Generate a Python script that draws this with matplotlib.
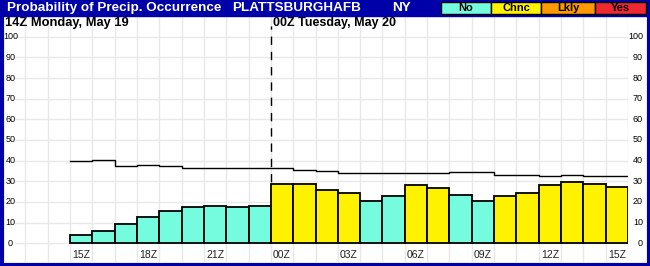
import matplotlib.pyplot as plt
from matplotlib.patches import Rectangle
import numpy as np

plt.rcParams['font.family'] = ['Liberation Sans', 'DejaVu Sans']

# hours 15Z Mon .. 15Z Tue
hours = ['15Z', '16Z', '17Z', '18Z', '19Z', '20Z', '21Z', '22Z', '23Z',
         '00Z', '01Z', '02Z', '03Z', '04Z', '05Z', '06Z', '07Z', '08Z',
         '09Z', '10Z', '11Z', '12Z', '13Z', '14Z', '15Z']
pop = [4, 6, 9.2, 12.6, 15.6, 17.4, 17.9, 17.4, 17.9,
       28.5, 28.5, 25.6, 24.2, 20.3, 22.7, 28.1, 26.6, 23.2,
       20.3, 22.7, 24.2, 28.1, 29.5, 28.5, 27.1]
category = ['No'] * 9 + ['Chnc'] * 4 + ['No'] * 2 + ['Chnc'] * 2 + ['No'] * 2 + ['Chnc'] * 6
upper = [39.8, 40.3, 37.4, 37.7, 37.4, 36.3, 36.3, 36.3, 36.3,
         36.3, 35.3, 34.8, 33.9, 33.9, 33.9, 33.9, 33.9, 34.3,
         34.3, 33.0, 33.0, 32.6, 33.0, 32.6, 32.6]
label_every = ['15Z', '18Z', '21Z', '00Z', '03Z', '06Z', '09Z', '12Z', '15Z']

cat_names = ['No', 'Chnc', 'Lkly', 'Yes']
cat_colors = {'No': '#75FBDD', 'Chnc': '#FFF200', 'Lkly': '#FF9900', 'Yes': '#F02830'}
frame_blue = '#0000A8'

W, H = 650, 266
fig = plt.figure(figsize=(W / 100, H / 100), dpi=100)

# axes in pixel coordinates
left, right, top, bottom = 15, 628, 16, 262
ax = fig.add_axes([left / W, 1 - bottom / H, (right - left) / W, (bottom - top) / H])
x = np.arange(len(hours))
px_per_hr = (628 - 70) / len(hours)
ax.set_xlim(-0.5 - (70 - left) / px_per_hr, len(hours) - 0.5)
y0_px, px_per_unit = 243.3, 2.066
ax.set_ylim(-(bottom - y0_px) / px_per_unit, (y0_px - top) / px_per_unit)
for s in ax.spines.values():
    s.set_visible(False)
ax.set_xticks([])
ax.set_yticks([])

# grid
for xe in np.arange(-2.5, len(hours), 1.0):
    ax.axvline(xe, color='#E8E8E8', lw=1, zorder=0)
for yv in range(0, 101, 10):
    ax.axhline(yv, color='#E8E8E8', lw=1, zorder=0)

ax.bar(x, pop, width=1.0, color=[cat_colors[c] for c in category],
       edgecolor='black', linewidth=1.3, zorder=3)
ax.step(np.append(x - 0.5, x[-1] + 0.5), upper + [upper[-1]], where='post',
        color='black', lw=1, zorder=4)

day_break = hours.index('00Z') - 0.5
ax.vlines(day_break, 0, 105, color='black', lw=1, ls=(0, (6, 5)), zorder=2)

for i, h in enumerate(hours):
    if h in label_every and (h != '15Z' or i in (0, len(hours) - 1)):
        ax.text(i, -5.6, h, ha='center', va='center', fontsize=7.5, color='#222222')

for yv in range(0, 101, 10):
    ypx = y0_px - yv * px_per_unit
    fig.text(10.5 / W, 1 - ypx / H, str(yv), ha='center', va='center', fontsize=6.5)
    fig.text(643 / W, 1 - ypx / H, str(yv), ha='right', va='center', fontsize=6.5)

fig.text(5 / W, 1 - 23 / H, '14Z Monday, May 19', fontsize=9.3, fontweight='bold', va='center')
fig.text(273 / W, 1 - 23 / H, '00Z Tuesday, May 20', fontsize=9, fontweight='bold', va='center')

# title bar and frame
fig.patches.append(Rectangle((0, 1 - 16 / H), 1, 16 / H, transform=fig.transFigure,
                             color=frame_blue, zorder=5))
fig.patches.append(Rectangle((1.5 / W, 1.5 / H), (W - 3) / W, (H - 3) / H,
                             transform=fig.transFigure, fill=False,
                             edgecolor=frame_blue, lw=3, zorder=5))
fig.text(7 / W, 1 - 8 / H, 'Probability of Precip. Occurrence', color='white',
         fontsize=9.7, fontweight='bold', va='center', zorder=6)
fig.text(232 / W, 1 - 8 / H, 'PLATTSBURGHAFB', color='white',
         fontsize=9.7, fontweight='bold', va='center', zorder=6)
fig.text(392 / W, 1 - 8 / H, 'NY', color='white',
         fontsize=9.7, fontweight='bold', va='center', zorder=6)

box_x = [441, 491, 541, 595, 646]
for k, name in enumerate(cat_names):
    x0, x1 = box_x[k], box_x[k + 1]
    fig.patches.append(Rectangle((x0 / W, 1 - 13.5 / H), (x1 - x0) / W, 11.5 / H,
                                 transform=fig.transFigure, facecolor=cat_colors[name],
                                 edgecolor='black', lw=1, zorder=6))
    fig.text((x0 + x1) / 2 / W, 1 - 7.8 / H, name, ha='center', va='center',
             fontsize=8, fontweight='bold', color='black', zorder=7)

fig.savefig('out.png', dpi=100)
